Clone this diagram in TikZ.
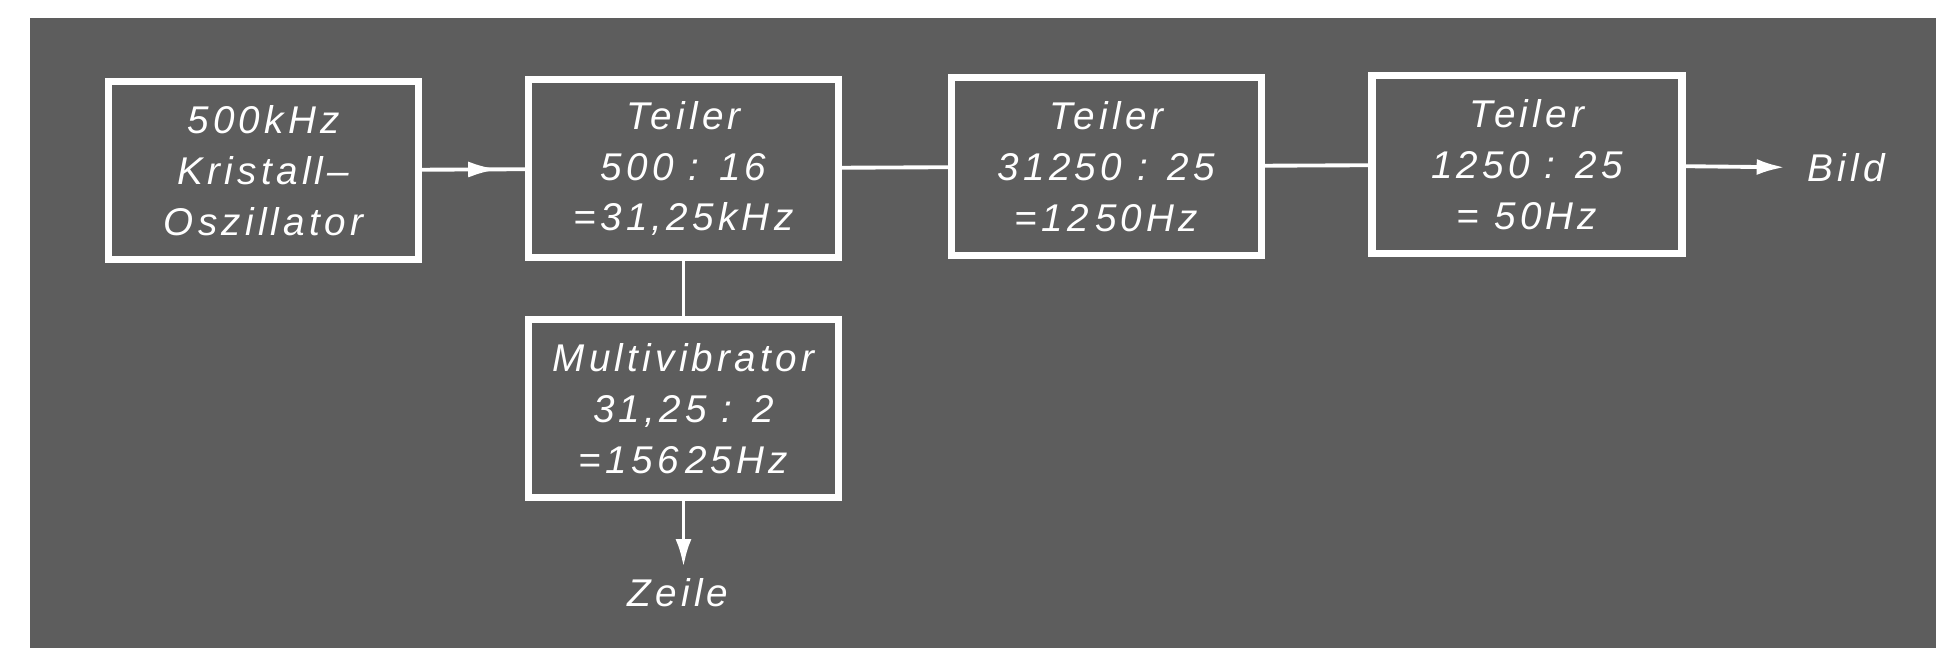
\documentclass[tikz,border=0pt]{standalone}
\usepackage{fontspec}
\usepackage{tikz}
\usetikzlibrary{arrows.meta,decorations.markings,positioning}
\newfontfamily\labelfont[LetterSpace=11]{Liberation Sans}
\definecolor{scanbg}{RGB}{93,93,93}

\begin{document}
\begin{tikzpicture}[
  every node/.style={text=white, font=\labelfont\itshape\fontsize{11}{14.5}\selectfont},
  block/.style={draw=white, line width=2pt, minimum width=3.1cm, minimum height=1.78cm, align=center, inner sep=0pt},
  sig/.style={inner sep=0pt},
  link/.style={white, line width=1.1pt},
  tip/.style={-{Latex[length=2.8mm,width=1.6mm]}},
  midtip/.style={postaction={decorate}, decoration={markings, mark=at position 0.74 with {\arrow{Latex[length=3mm,width=1.6mm]}}}}
]

\useasboundingbox (0,0) rectangle (19.36,6.48);
\fill[scanbg] (0.30,0) rectangle (19.36,6.30);

\node[block] (osc) at (2.635,4.775) {500kHz\\Kristall–\\Oszillator};
\node[block] (t1) at (6.835,4.795) {Teiler\\500 : 16\\=31,25kHz};
\node[block] (t2) at (11.065,4.815) {Teiler\\31250 : 25\\=12\,50Hz};
\node[block] (t3) at (15.27,4.835) {Teiler\\1250 : 25\\= 50Hz};
\node[block] (mv) at (6.835,2.39) {Multivibrator\\31,25 : 2\\=156\,25Hz};

\node[sig] (bild) at (18.46,4.80) {Bild};
\node[sig] (zeile) at (6.78,0.55) {Zeile};

\draw[link,midtip] (osc) -- (t1);
\draw[link] (t1) -- (t2);
\draw[link] (t2) -- (t3);
\draw[link,tip,shorten >=2.2mm] (t3) -- (bild);

\draw[link] (t1) -- (mv);
\draw[link,tip,shorten >=1.1mm] (mv.south) -- (mv.south |- zeile.north);

\end{tikzpicture}
\end{document}
